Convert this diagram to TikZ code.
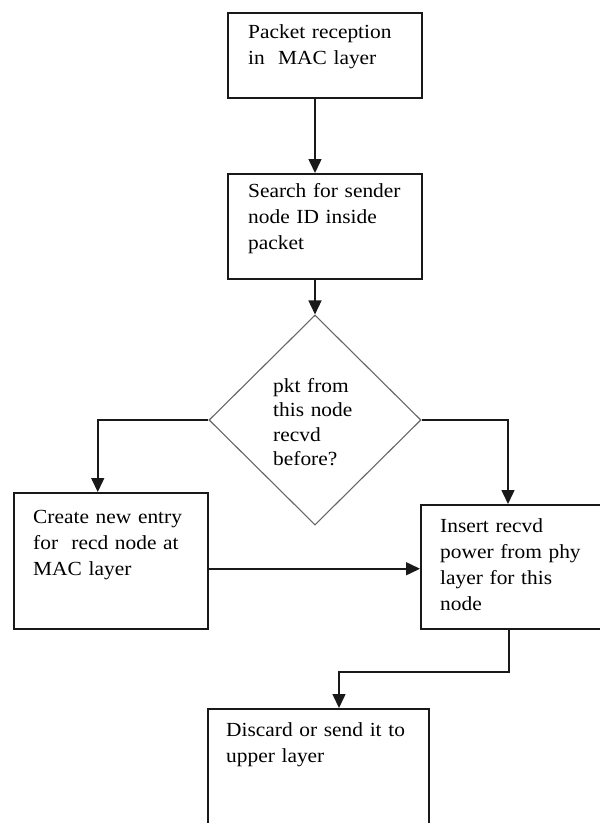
\documentclass[tikz,border=0pt]{standalone}
\usepackage{fontspec}
\setmainfont{Liberation Serif}[FakeStretch=1.07]
\usetikzlibrary{shapes.geometric,arrows.meta,calc}
\begin{document}
\begin{tikzpicture}[x=1pt,y=-1pt,
  box/.style={draw=black!90, line width=1.5pt, anchor=north west, inner sep=0pt, rectangle},
  dia/.style={draw=black!60, line width=1.1pt, diamond, aspect=1, inner sep=0pt,
              minimum width=212pt, minimum height=210pt},
  lbl/.style={anchor=base west, inner sep=0pt, text width=180pt, align=left,
              font=\fontsize{20}{26}\selectfont, text=black},
  dlbl/.style={anchor=base west, inner sep=0pt, text width=120pt, align=left,
              font=\fontsize{20}{24.5}\selectfont, text=black},
  arr/.style={draw=black!90, line width=1.5pt, -{Triangle[length=14pt,width=13pt]}}]
\useasboundingbox (0,0) rectangle (600,823);
\clip (0,0) rectangle (600,823);
\fill[white] (0,0) rectangle (600,823);

% boxes
\node[box, minimum width=194pt, minimum height=85pt]  (b1) at (227,12)  {};
\node[box, minimum width=194pt, minimum height=105pt] (b2) at (227,173) {};
\node[dia] (d) at (315,420) {};
\node[box, minimum width=194pt, minimum height=136pt] (b3) at (13,492)  {};
\node[box, minimum width=190pt, minimum height=124pt] (b4) at (420,504) {};
\node[box, minimum width=221pt, minimum height=130pt] (b5) at (207,708) {};

% texts
\node[lbl]  (t1) at (248,38)  {Packet reception\\in\ \ MAC layer};
\node[lbl]  (t2) at (248,197) {Search for sender\\node ID inside\\packet};
\node[dlbl] (td) at (273,392) {pkt from\\this node\\recvd\\before?};
\node[lbl]  (t3) at (33,523)  {Create new entry\\for\ \ recd node at\\MAC layer};
\node[lbl]  (t4) at (440,532) {Insert recvd\\power from phy\\layer for this\\node};
\node[lbl]  (t5) at (226,736) {Discard or send it to\\upper layer};

% connectors
\draw[arr] (b1.south -| d.north) -- (b2.north -| d.north);
\draw[arr] (b2.south -| d.north) -- (d.north);
\draw[arr] (d.west) -| ([xshift=-13pt]b3.north);
\draw[arr] (d.east) -| ([xshift=88pt]b4.north west);
\draw[arr] ([yshift=-8pt]b3.east) -- ([yshift=-8pt]b3.east -| b4.west);
\coordinate (k) at (339,672);
\draw[arr] ([xshift=89pt]b4.south west) |- (k) -- (k |- b5.north);
\end{tikzpicture}
\end{document}
